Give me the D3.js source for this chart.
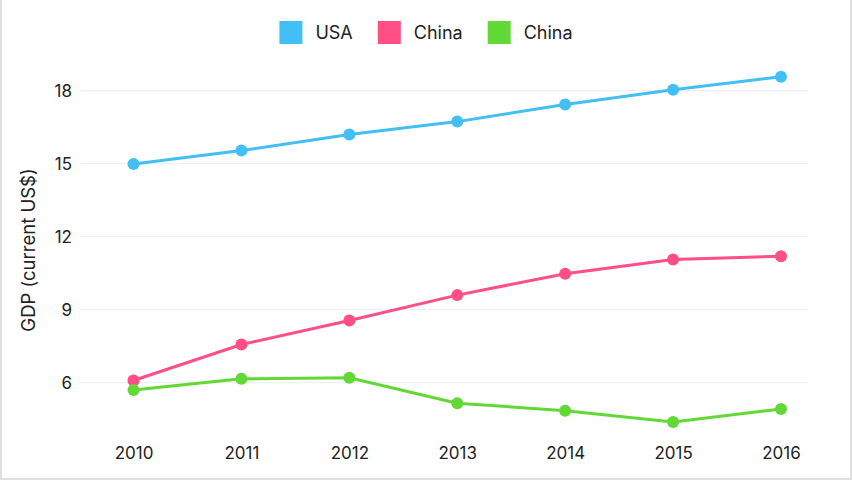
<!DOCTYPE html>
<html>
<head>
<meta charset="utf-8">
<script src="https://cdn.jsdelivr.net/npm/d3@7"></script>
<style>
  body { margin: 0; background: #fff; }
  text { font-family: Inter, "Noto Sans", sans-serif; fill: #222; }
</style>
</head>
<body>
<div id="vis"></div>
<script>
const years = [2010, 2011, 2012, 2013, 2014, 2015, 2016];
const usa = [14.99, 15.54, 16.2, 16.73, 17.43, 18.04, 18.57];
const china = [6.09, 7.57, 8.56, 9.6, 10.48, 11.06, 11.2];
const china2 = [5.7, 6.16, 6.2, 5.16, 4.85, 4.39, 4.92];
const seriesNames = ["USA", "China", "China"];
const colors = ["#42bff5", "#ff4f85", "#62d836"];
const yTicks = [6, 9, 12, 15, 18];

const width = 852, height = 480;

const svg = d3.select("#vis")
    .append("svg")
    .attr("width", width)
    .attr("height", height);

// frame (left, right, bottom)
svg.append("path")
    .attr("d", `M1,0V${height - 1}H${width - 1}V0`)
    .attr("fill", "none")
    .attr("stroke", "#e0e0e0")
    .attr("stroke-width", 2);

const x = d3.scalePoint()
    .domain(years)
    .range([133.5, 781]);

const y = d3.scaleLinear()
    .domain([4, 19.5])
    .range([431.4, 54.2]);

// grid
svg.append("g")
    .selectAll("line")
    .data(yTicks)
    .enter()
    .append("line")
    .attr("x1", 80)
    .attr("x2", 808)
    .attr("y1", d => y(d))
    .attr("y2", d => y(d))
    .attr("stroke", "#ececec")
    .attr("stroke-width", 1);

// y axis
const yAxis = svg.append("g")
    .attr("transform", "translate(72,0)")
    .call(d3.axisLeft(y).tickValues(yTicks).tickSize(0).tickPadding(0));
yAxis.select(".domain").remove();
yAxis.selectAll("text")
    .attr("font-size", 17)
    .attr("font-family", "Inter, sans-serif")
    .attr("fill", "#222");

// x axis
const xAxis = svg.append("g")
    .attr("transform", "translate(0,447)")
    .call(d3.axisBottom(x).tickSize(0).tickPadding(0));
xAxis.select(".domain").remove();
xAxis.selectAll("text")
    .attr("font-size", 17)
    .attr("font-family", "Inter, sans-serif")
    .attr("fill", "#222");

// y title
svg.append("text")
    .attr("transform", "translate(35,250) rotate(-90)")
    .attr("text-anchor", "middle")
    .attr("font-size", 18.5)
    .text("GDP (current US$)");

// lines
const allSeries = [usa, china, china2];
const line = d3.line()
    .x((d, i) => x(years[i]))
    .y(d => y(d));

allSeries.forEach((s, k) => {
    const g = svg.append("g");
    g.append("path")
        .datum(s)
        .attr("d", line)
        .attr("fill", "none")
        .attr("stroke", colors[k])
        .attr("stroke-width", 3);
    g.selectAll("circle")
        .data(s)
        .enter()
        .append("circle")
        .attr("cx", (d, i) => x(years[i]))
        .attr("cy", d => y(d))
        .attr("r", 6)
        .attr("fill", colors[k]);
});

// legend
const legend = svg.append("g");
let lx = 0;
seriesNames.forEach((name, k) => {
    const item = legend.append("g").attr("transform", `translate(${lx},0)`);
    item.append("rect")
        .attr("width", 23)
        .attr("height", 23)
        .attr("y", 21)
        .attr("fill", colors[k]);
    const t = item.append("text")
        .attr("x", 36)
        .attr("y", 39)
        .attr("font-size", 18)
        .text(name);
    lx += 36 + t.node().getComputedTextLength() + 25;
});
const legendW = lx - 25;
legend.attr("transform", `translate(${(width - legendW) / 2},0)`);
</script>
</body>
</html>
